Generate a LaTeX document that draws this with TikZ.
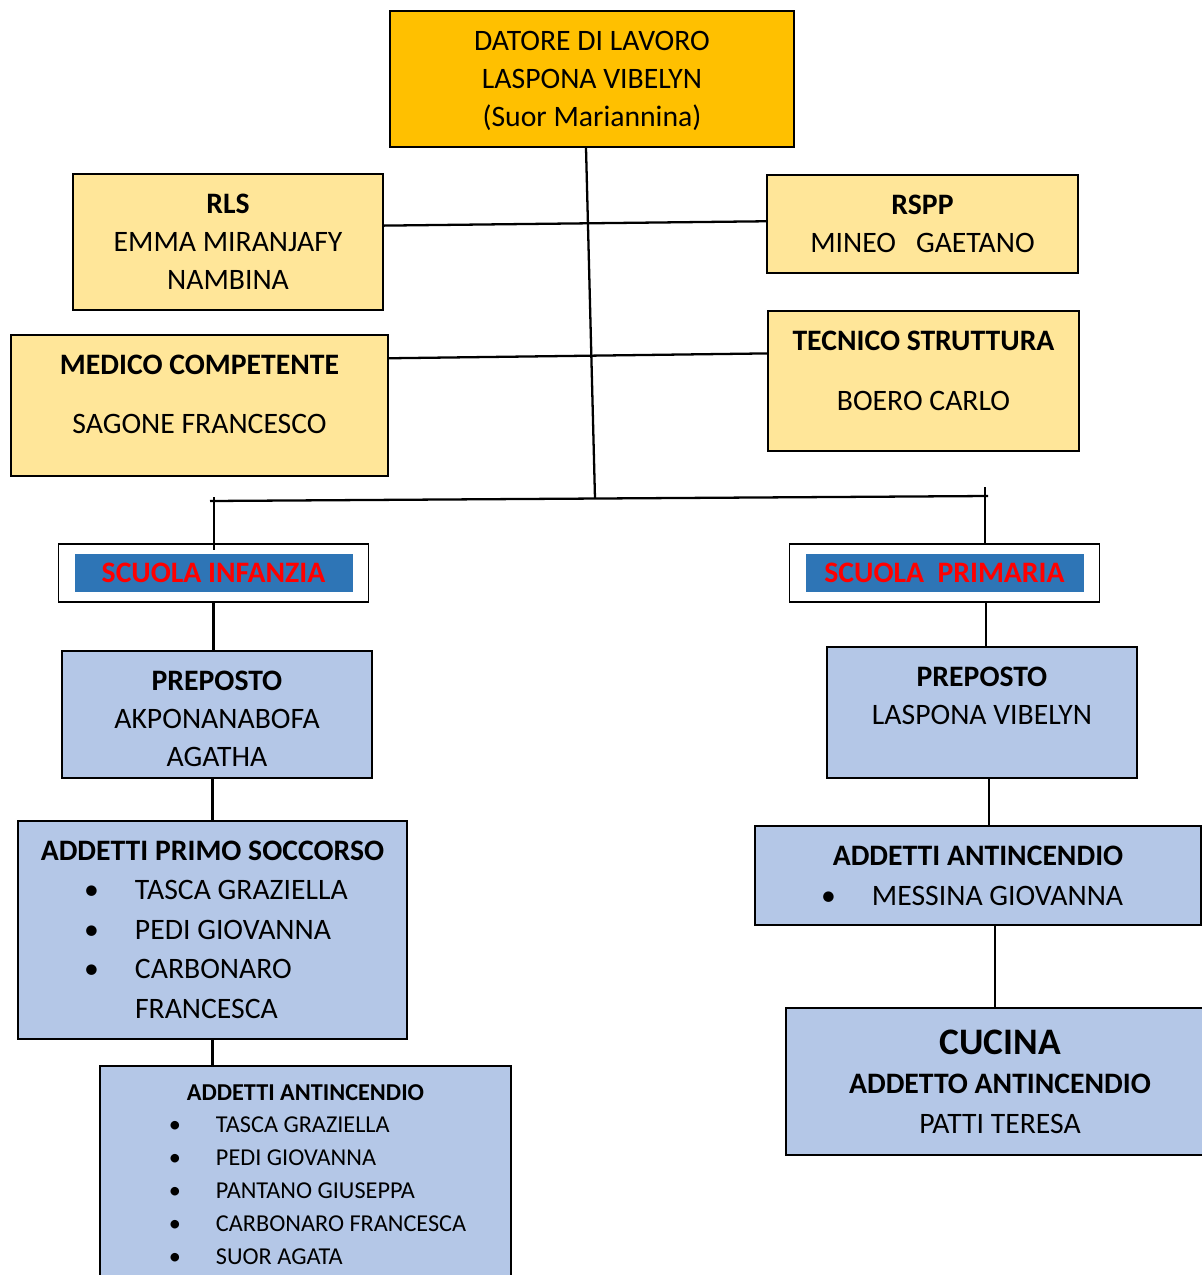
\documentclass[tikz,border=0pt]{standalone}
\usepackage{fontspec}
\setmainfont{Carlito}
\usepackage{tikz}
\definecolor{oro}{HTML}{FFC000}
\definecolor{giallo}{HTML}{FFE699}
\definecolor{azzurro}{HTML}{B4C7E7}
\definecolor{blu}{HTML}{2E75B6}
\newlength\pxu \pxu=0.02cm
\setlength\fboxsep{0pt}
\long\def\cella#1#2#3#4{\parbox[c][#2\pxu][t]{#1\pxu}{\centering\rule{0pt}{#3\pxu}#4}}
\def\fascia#1{\colorbox{blu}{\parbox[c][38\pxu][c]{278\pxu}{\centering\color{red}\bfseries #1}}}
\def\elenco#1{\par\raggedright\leftskip=#1\pxu\relax}
\def\voce#1{\par\leavevmode\llap{\textbullet\hspace{#1\pxu}}}
\tikzset{
	box/.style={draw, line width=1.1pt, inner sep=0pt, font=\fontsize{16.9}{21.8}\selectfont},
	scuola/.style={box, fill=white, inner xsep=0.32cm, inner ysep=0.2cm},
	linea/.style={line width=1.3pt}
}

\begin{document}
\begin{tikzpicture}[x=0.02cm, y=-0.02cm]
			%%%%% START %%%%%
			
			\useasboundingbox (0, 0) rectangle (1202, 1275);
			
			\node[box, fill=oro] (datore) at (592, 79) {\cella{404}{136}{39}{DATORE DI LAVORO\\LASPONA VIBELYN\\(Suor Mariannina)}};
			
			\node[box, fill=giallo] (rls) at (228, 242) {\cella{310}{136}{39}{\textbf{RLS}\\EMMA MIRANJAFY\\NAMBINA}};
			\node[box, fill=giallo] (rspp) at (922.5, 224) {\cella{311}{98}{39}{\textbf{RSPP}\\MINEO\hspace{20\pxu}GAETANO}};
			\node[box, fill=giallo] (medico) at (199.5, 405.5) {\cella{377}{141}{39}{\textbf{MEDICO COMPETENTE}\\[21.5\pxu]SAGONE FRANCESCO}};
			\node[box, fill=giallo] (tecnico) at (923.5, 381) {\cella{311}{140}{39}{\textbf{TECNICO STRUTTURA}\\[22.5\pxu]BOERO CARLO}};
			
			\draw[linea] ([xshift=-0.12cm]datore.south) -- (595, 498.6) coordinate (tronco);
			\draw[linea] (rls.6) -- (rspp.179);
			\draw[linea] (medico.14) -- (tecnico.170);
			
			\coordinate (busL) at (210, 501);
			\coordinate (busR) at (988, 496);
			\draw[linea] (busL) -- (busR);
			
			% scuola infanzia
			\node[scuola] (infanzia) at (213.5, 573) {\fascia{SCUOLA INFANZIA}};
			\coordinate (dropL) at (214, 497);
			\draw[linea] (dropL) -- ([yshift=-0.14cm]dropL |- infanzia.north);
			
			\node[box, fill=azzurro] (prepL) at (217, 714.5) {\cella{310}{127}{39}{\textbf{PREPOSTO}\\AKPONANABOFA\\AGATHA}};
			\draw[linea] (infanzia.south) -- (infanzia.south |- prepL.north);
			
			\node[box, fill=azzurro] (soccorso) at (212.5, 930) {\cella{389}{218}{39}{\fontsize{16.9}{22.5}\selectfont\textbf{ADDETTI PRIMO SOCCORSO}\elenco{117}%
				\voce{36}TASCA GRAZIELLA\voce{36}PEDI GIOVANNA\voce{36}CARBONARO\\FRANCESCA}};
			\draw[linea] (soccorso.north |- prepL.south) -- (soccorso.north);
			
			\node[box, fill=azzurro] (antL) at (305.5, 1181) {\cella{411}{230}{34}{\fontsize{13.8}{18.7}\selectfont\textbf{ADDETTI ANTINCENDIO}\elenco{116}%
				\voce{35}TASCA GRAZIELLA\voce{35}PEDI GIOVANNA\voce{35}PANTANO GIUSEPPA\voce{35}CARBONARO FRANCESCA\voce{35}SUOR AGATA}};
			\draw[linea] (soccorso.south) -- (soccorso.south |- antL.north);
			
			% scuola primaria
			\node[scuola] (primaria) at (944.5, 573) {\fascia{SCUOLA~~PRIMARIA}};
			\coordinate (dropR) at (985, 487);
			\draw[linea] (dropR) -- (dropR |- primaria.north);
			
			\node[box, fill=azzurro] (prepR) at (982, 712.5) {\cella{310}{131}{39}{\textbf{PREPOSTO}\\LASPONA VIBELYN}};
			\coordinate (p1) at ([xshift=0.02cm]dropR |- primaria.south);
			\draw[linea] (p1) -- (p1 |- prepR.north);
			
			\node[box, fill=azzurro] (antR) at (978, 875.5) {\cella{446}{99}{39}{\fontsize{16.9}{23.2}\selectfont\textbf{ADDETTI ANTINCENDIO}\elenco{117}%
				\voce{36}MESSINA GIOVANNA}};
			\coordinate (p2) at ([xshift=0.14cm]prepR.south);
			\draw[linea] (p2) -- (p2 |- antR.north);
			
			\node[box, fill=azzurro] (cucina) at (1000, 1081.5) {\cella{428}{147}{46}{\fontsize{21.3}{22.7}\selectfont\bfseries CUCINA\par
				\fontsize{16.9}{22.7}\selectfont ADDETTO ANTINCENDIO\par\mdseries PATTI TERESA}};
			\draw[linea] ([xshift=-0.1cm]cucina.north |- antR.south) -- ([xshift=-0.1cm]cucina.north);
			
			%%%%% END %%%%%
		\end{tikzpicture}
\end{document}
